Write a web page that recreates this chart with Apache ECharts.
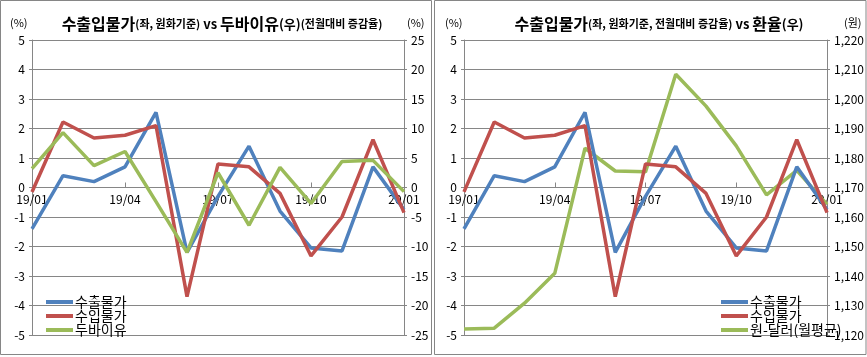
<!DOCTYPE html>
<html><head><meta charset="utf-8">
<script src="https://cdn.jsdelivr.net/npm/echarts@6/dist/echarts.min.js"></script>
<style>html,body{margin:0;padding:0;background:#fff}#c{width:867px;height:357px}</style>
</head><body><div id="c"></div>
<script>
var months = ['19/01','19/02','19/03','19/04','19/05','19/06','19/07','19/08','19/09','19/10','19/11','19/12','20/01'];
var exportPrice = [-1.4, 0.4, 0.2, 0.7, 2.55, -2.2, -0.3, 1.4, -0.8, -2.05, -2.15, 0.7, -0.75];
var importPrice = [-0.15, 2.22, 1.68, 1.77, 2.1, -3.7, 0.8, 0.7, -0.2, -2.32, -1.0, 1.62, -0.85];
var dubai = [3.2, 9.3, 3.7, 6.1, -2.4, -11.0, 2.5, -6.4, 3.4, -2.7, 4.4, 4.6, -0.7];
var krwusd = [1122.0, 1122.3, 1130.8, 1140.9, 1183.3, 1175.6, 1175.3, 1208.4, 1197.6, 1184.1, 1167.5, 1175.8, 1164.3];

var FONT = "'Noto Sans CJK KR', sans-serif";
var GRAY = '#868686';
var C_BLUE = '#4F81BD', C_RED = '#C0504D', C_GREEN = '#9BBB59';
var GRID_TOP = 40, GRID_BOTTOM_PX = 335;

function xAx(gi){
  return {type:'category', gridIndex:gi, data:months, boundaryGap:false, position:'bottom',
    offset: -(GRID_BOTTOM_PX - GRID_TOP) / 2,
    axisLine:{onZero:false, lineStyle:{color:GRAY}},
    axisTick:{inside:true, length:5, interval:2, lineStyle:{color:GRAY}},
    axisLabel:{interval:2, color:'#000', fontSize:12, fontFamily:FONT, margin:6}};
}
function yAx(gi, min, max, iv, pos, fmt){
  return {type:'value', gridIndex:gi, min:min, max:max, interval:iv, position:pos,
    axisLine:{show:true, onZero:false, lineStyle:{color:GRAY}},
    axisTick:{show:true, length:3, lineStyle:{color:GRAY}},
    splitLine:{show:pos==='left', lineStyle:{color:GRAY}},
    axisLabel:{color:'#000', fontSize:12, fontFamily:FONT, margin:7, formatter:fmt}};
}
var richT = {
  big:{fontSize:16, fontWeight:'bold', fontFamily:FONT, color:'#000'},
  sm:{fontSize:11, fontFamily:FONT, color:'#000'},
  vs:{fontSize:13, fontWeight:'bold', fontFamily:FONT, color:'#000'},
  md:{fontSize:13, fontFamily:FONT, color:'#000'}
};
function ser(name, data, xi, yi, color){
  return {type:'line', name:name, data:data, xAxisIndex:xi, yAxisIndex:yi, symbol:'none',
    lineStyle:{width:3.5, color:color}, itemStyle:{color:color}};
}
var legendText = {fontSize:14, lineHeight:13, height:13, fontFamily:FONT, color:'#000', padding:[0,0,0,-3]};
var chart = echarts.init(document.getElementById('c'));
chart.setOption({
  animation:false,
  title:[
    {text:'{big|수출입물가}{sm|(좌, 원화기준)}{vs| vs }{big|두바이유}{md|(우)}{sm|(전월대비 증감율)}',
     left:217, top:11, textAlign:'center', textStyle:{rich:richT}},
    {text:'{big|수출입물가}{sm|(좌, 원화기준, 전월대비 증감율)}{vs| vs }{big|환율}{md|(우)}',
     left:654, top:11, textAlign:'center', textStyle:{rich:richT}}
  ],
  grid:[
    {left:32, right:463, top:GRID_TOP, bottom:357 - GRID_BOTTOM_PX},
    {left:464, right:39, top:GRID_TOP, bottom:357 - GRID_BOTTOM_PX}
  ],
  xAxis:[xAx(0), xAx(1)],
  yAxis:[
    yAx(0,-5,5,1,'left'),
    yAx(0,-25,25,5,'right'),
    yAx(1,-5,5,1,'left'),
    yAx(1,1120,1220,10,'right', function(v){return v.toLocaleString('en-US');})
  ],
  legend:[
    {orient:'vertical', left:41, top:290, itemWidth:27, itemHeight:4, itemGap:0, icon:'rect',
     textStyle:legendText, data:['수출물가','수입물가','두바이유']},
    {orient:'vertical', left:716, top:290, itemWidth:27, itemHeight:4, itemGap:0, icon:'rect',
     textStyle:legendText, data:['수출물가','수입물가','원-달러(월평균)']}
  ],
  graphic:[
    {type:'rect', shape:{x:0.5, y:0.5, width:431, height:354}, style:{fill:'none', stroke:GRAY, lineWidth:1}},
    {type:'rect', shape:{x:434.5, y:0.5, width:431.5, height:354}, style:{fill:'none', stroke:GRAY, lineWidth:1}},
    {type:'text', left:10, top:17, style:{text:'(%)', fontSize:11, fontFamily:FONT, fill:'#000'}},
    {type:'text', left:407, top:17, style:{text:'(%)', fontSize:11, fontFamily:FONT, fill:'#000'}},
    {type:'text', left:445, top:17, style:{text:'(%)', fontSize:11, fontFamily:FONT, fill:'#000'}},
    {type:'text', left:844, top:17, style:{text:'(원)', fontSize:11, fontFamily:FONT, fill:'#000'}}
  ],
  series:[
    ser('수출물가', exportPrice, 0, 0, C_BLUE),
    ser('수입물가', importPrice, 0, 0, C_RED),
    ser('두바이유', dubai, 0, 1, C_GREEN),
    ser('원-달러(월평균)', krwusd, 1, 3, C_GREEN),
    ser('수출물가', exportPrice, 1, 2, C_BLUE),
    ser('수입물가', importPrice, 1, 2, C_RED)
  ]
});
</script></body></html>
